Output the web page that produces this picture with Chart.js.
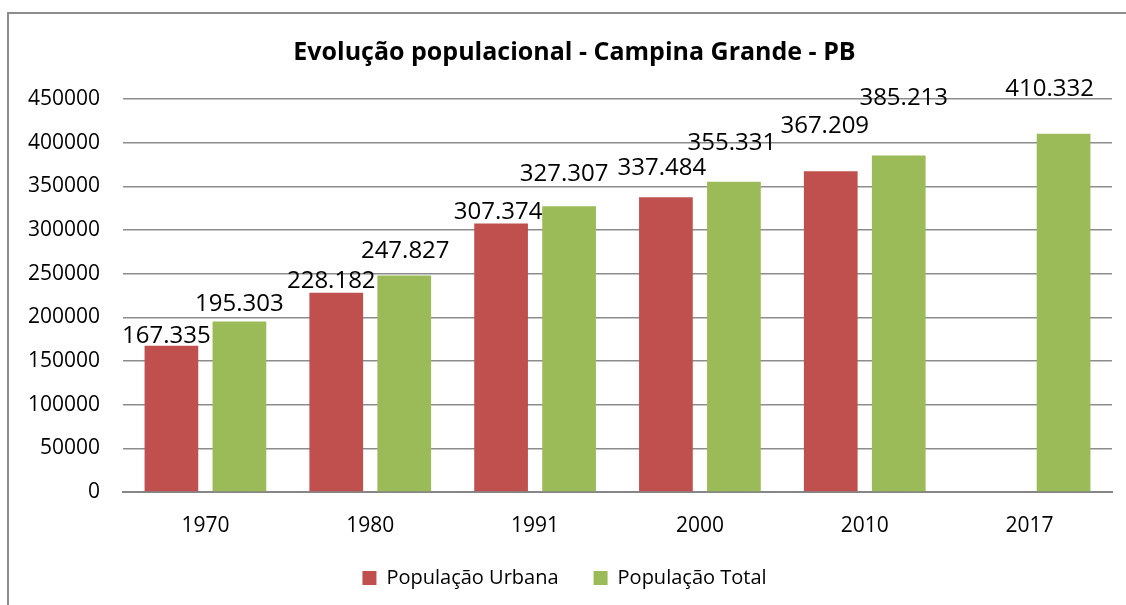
<!DOCTYPE html>
<html>
<head>
<meta charset="utf-8">
<script src="https://cdn.jsdelivr.net/npm/chart.js@4/dist/chart.umd.min.js"></script>
<style>
    body { margin: 0; background: #fff; }
    #wrap {
        position: absolute; left: 7px; top: 12px; width: 1119px; height: 593px;
        box-sizing: border-box;
        border-top: 2px solid #8c8c8c; border-left: 2px solid #8c8c8c;
    }
</style>
</head>
<body>
<div id="wrap"><canvas id="chart"></canvas></div>
<script>
const years = ['1970', '1980', '1991', '2000', '2010', '2017'];
const urbana = [167335, 228182, 307374, 337484, 367209, null];
const total = [195303, 247827, 327307, 355331, 385213, 410332];

const fmt = (v) => String(v).replace(/\B(?=(\d{3})+(?!\d))/g, '.');

// draws the value above each bar; labels were nudged by hand in the original
const valueLabels = {
    id: 'valueLabels',
    afterLayout(chart) {
        // title and legend are off-centre a bit in the original
        chart.legend.left -= 6;
        chart.titleBlock.left += 7;
        chart.titleBlock.right += 7;
    },
    afterDatasetsDraw(chart, args, opts) {
        const ctx = chart.ctx;
        ctx.save();
        ctx.font = '24px "Open Sans"';
        ctx.fillStyle = '#000';
        ctx.textAlign = 'center';
        ctx.textBaseline = 'alphabetic';
        chart.data.datasets.forEach((ds, i) => {
            chart.getDatasetMeta(i).data.forEach((bar, j) => {
                if (ds.data[j] == null) return;
                const dx = opts.shiftX[i][j], lift = opts.lift[i][j];
                ctx.fillText(fmt(ds.data[j]), bar.x + dx, bar.y - lift);
            });
        });
        ctx.restore();
    }
};

Chart.defaults.font.family = '"Open Sans", sans-serif';
Chart.defaults.color = '#000';

let ctx = document.getElementById('chart').getContext('2d');
let chart = new Chart(ctx, {
    type: 'bar',
    data: {
        labels: years,
        datasets: [
            {
                label: 'População Urbana',
                backgroundColor: '#C0504D',
                data: urbana,
            },
            {
                label: 'População Total',
                backgroundColor: '#9BBB59',
                data: total,
            }
        ]
    },
    options: {
        responsive: true,
        maintainAspectRatio: false,
        animation: false,
        categoryPercentage: 0.825,
        barPercentage: 0.79,
        layout: { padding: { top: 12, left: 14, right: 14, bottom: 7 } },
        scales: {
            x: {
                grid: { display: false, drawTicks: false },
                border: { display: true, color: '#868686', width: 2 },
                ticks: { font: { size: 21 }, padding: 21 },
                afterFit: (scale) => { scale.height = 41; },
            },
            y: {
                min: 0,
                max: 450000,
                border: { display: false },
                grid: { color: '#8c8c8c', lineWidth: 1.5, drawTicks: false },
                ticks: {
                    stepSize: 50000,
                    font: { size: 21 },
                    padding: 23,
                    callback: (val) => String(val),
                },
                afterFit: (scale) => { scale.width = 100; },
            },
        },
        plugins: {
            tooltip: false,
            valueLabels: {
                shiftX: [[-5, -5, -3, -4, -6, 0], [0, 1, -5, -2, 5, -14]],
                lift: [[3, 5, 5, 22, 38, 0], [10, 18, 25, 32, 51, 38]],
            },
            title: {
                display: true,
                text: 'Evolução populacional - Campina Grande - PB',
                font: { size: 25, weight: 'bold' },
                padding: { top: 12, bottom: 31 },
            },
            legend: {
                position: 'bottom',
                labels: {
                    boxWidth: 14,
                    boxHeight: 14,
                    padding: 35,
                    font: { size: 20 },
                },
            },
        }
    },
    plugins: [valueLabels]
});
</script>
</body>
</html>
